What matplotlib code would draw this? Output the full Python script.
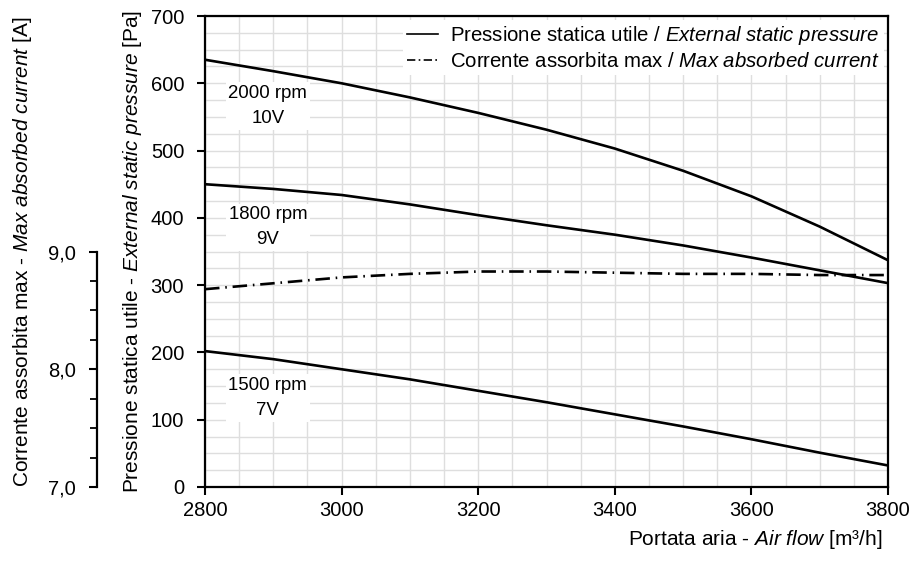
import matplotlib
matplotlib.use("Agg")
import matplotlib.pyplot as plt
from matplotlib import font_manager
from matplotlib.ticker import MultipleLocator, FixedLocator
from matplotlib.lines import Line2D

names = {f.name for f in font_manager.fontManager.ttflist}
FONT = "Liberation Sans Narrow" if "Liberation Sans Narrow" in names else "Liberation Sans"

plt.rcParams['font.family'] = [FONT, 'DejaVu Sans']
plt.rcParams['mathtext.fontset'] = 'custom'
plt.rcParams['mathtext.rm'] = FONT
plt.rcParams['mathtext.it'] = FONT + ':italic'

# ---- data ----
airflow = [2800, 2900, 3000, 3100, 3200, 3300, 3400, 3500, 3600, 3700, 3800]
p_2000 = [635, 618, 600, 579, 556, 531, 503, 470, 432, 387, 337]
p_1800 = [450, 443, 434, 420, 404, 389, 375, 359, 341, 322, 303]
p_1500 = [202, 190, 175, 160, 143, 126, 108, 90, 71, 51, 32]
current = [8.68, 8.73, 8.78, 8.81, 8.83, 8.83, 8.82, 8.81, 8.81, 8.80, 8.80]

curve_labels = ["2000 rpm\n10V", "1800 rpm\n9V", "1500 rpm\n7V"]
label_pos = [(2892, 566), (2892, 386), (2892, 132)]

x_ticks = [2800, 3000, 3200, 3400, 3600, 3800]
p_ticks = [0, 100, 200, 300, 400, 500, 600, 700]
a_ticks = [7.0, 8.0, 9.0]
a_ticklabels = ["7,0", "8,0", "9,0"]

FS_TICK = 14.5
FS_LAB = 15.0
FS_LEG = 14.7
FS_CURVE = 13.4

W, H = 915, 563
fig = plt.figure(figsize=(W / 100, H / 100), dpi=100)
L, R, T, B = 205, 888, 16, 487
ax = fig.add_axes([L / W, 1 - B / H, (R - L) / W, (B - T) / H])

lw = 1.9
for p in (p_2000, p_1800, p_1500):
    ax.plot(airflow, p, color='black', lw=lw, solid_capstyle='butt',
            solid_joinstyle='round', zorder=3)

ax.set_xlim(2800, 3800)
ax.set_ylim(0, 700)
ax.xaxis.set_major_locator(FixedLocator(x_ticks))
ax.xaxis.set_minor_locator(MultipleLocator(50))
ax.yaxis.set_major_locator(FixedLocator(p_ticks))
ax.yaxis.set_minor_locator(MultipleLocator(25))
ax.grid(which='both', color='#dedede', lw=1.0, zorder=0)
ax.set_axisbelow(True)
ax.tick_params(axis='y', which='major', direction='out', length=6, width=1.5,
               labelsize=FS_TICK, pad=9)
ax.tick_params(axis='x', which='major', direction='out', length=6, width=1.5,
               labelsize=FS_TICK, pad=4)
ax.tick_params(which='minor', length=0)
for s in ax.spines.values():
    s.set_linewidth(1.6)
    s.set_color('black')

for txt, (xx, yy) in zip(curve_labels, label_pos):
    ax.text(xx, yy, txt, ha='center', va='center', fontsize=FS_CURVE, linespacing=1.6,
            bbox=dict(facecolor='white', edgecolor='none', pad=2), zorder=4)

ax.set_ylabel(r"Pressione statica utile - $\mathit{External\ static\ pressure}$ [Pa]",
              fontsize=FS_LAB)
ax.yaxis.set_label_coords((144 - L) / (R - L), 0.5)
ax.set_xlabel(r"Portata aria - $\mathit{Air\ flow}$ [m³/h]", fontsize=FS_LAB, loc='right')
ax.xaxis.set_label_coords((882 - L) / (R - L), (B - 528) / (B - T))

# secondary current axis
ax2 = ax.twinx()
ax2.set_ylim(7, 11)
ax2.plot(airflow, current, color='black', lw=lw, linestyle=(0, (5.5, 2.2, 0.6, 2.2)), zorder=3)
for k in ('right', 'top', 'bottom'):
    ax2.spines[k].set_visible(False)
ax2.spines['left'].set_visible(True)
ax2.spines['left'].set_position(('axes', (97 - L) / (R - L)))
ax2.spines['left'].set_bounds(7, 9)
ax2.spines['left'].set_linewidth(1.6)
ax2.yaxis.set_ticks_position('left')
ax2.yaxis.set_label_position('left')
ax2.yaxis.set_major_locator(FixedLocator(a_ticks))
ax2.set_yticklabels(a_ticklabels)
ax2.yaxis.set_minor_locator(FixedLocator([7.25, 7.5, 7.75, 8.25, 8.5, 8.75]))
ax2.tick_params(which='major', direction='out', length=6, width=1.5, labelsize=FS_TICK, pad=9)
ax2.tick_params(which='minor', direction='out', length=5, width=1.3)
ax2.set_ylabel(r"Corrente assorbita max - $\mathit{Max\ absorbed\ current}$ [A]", fontsize=FS_LAB)
ax2.yaxis.set_label_coords((34 - L) / (R - L), 0.5)

handles = [Line2D([], [], color='black', lw=1.2),
           Line2D([], [], color='black', lw=1.2, linestyle=(0, (5, 2, 1, 2)))]
labels = [r"Pressione statica utile / $\mathit{External\ static\ pressure}$",
          r"Corrente assorbita max / $\mathit{Max\ absorbed\ current}$"]
leg = ax2.legend(handles, labels, loc='upper right', fontsize=FS_LEG, frameon=True,
                 handlelength=1.5, handletextpad=0.6, labelspacing=0.25,
                 borderaxespad=0.2, borderpad=0.2, fancybox=False)
leg.get_frame().set_facecolor('white')
leg.get_frame().set_edgecolor('none')
leg.get_frame().set_alpha(1)

fig.savefig("out.png", dpi=100)
